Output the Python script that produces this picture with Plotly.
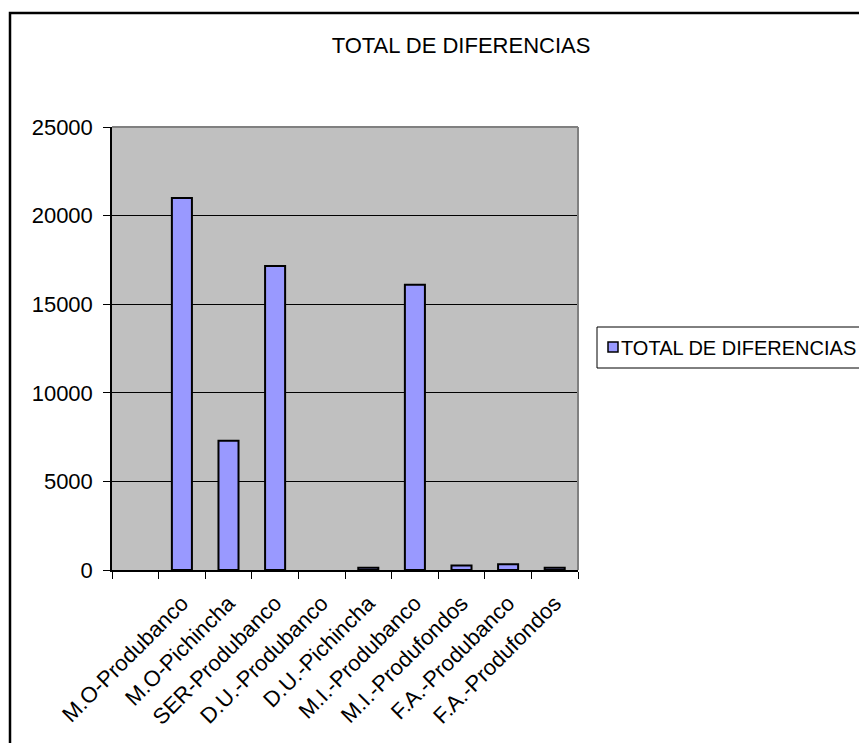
import plotly.graph_objects as go

categories = [" ", "M.O-Produbanco", "M.O-Pichincha", "SER-Produbanco", "D.U.-Produbanco",
              "D.U.-Pichincha", "M.I.-Produbanco", "M.I.-Produfondos", "F.A.-Produbanco",
              "F.A.-Produfondos"]
values = [None, 21000, 7300, 17150, 0, 120, 16100, 260, 320, 120]
series_name = "TOTAL DE DIFERENCIAS"
y_ticks = [0, 5000, 10000, 15000, 20000, 25000]
y_tick_labels = ["0", "5000", "10000", "15000", "20000", "25000"]

OFF = 8  # page body margin
W, H = 867 - 2 * OFF, 751 - 2 * OFF
L, R, T, B = 112 - OFF, 578 - OFF, 127 - OFF, 570 - OFF
FONT = "Liberation Sans, Arial, sans-serif"
FS = 22


def px(xp):
    return (xp - OFF - L) / (R - L)


def py(yp):
    return (B - (yp - OFF)) / (B - T)


line_widths = [0 if not v else 2 for v in values]

fig = go.Figure()
fig.add_trace(go.Bar(
    x=categories, y=values, name=series_name,
    marker=dict(color="#9999FF", line=dict(color="black", width=line_widths)),
    showlegend=False,
))

shapes = [
    dict(type="line", xref="paper", yref="paper", x0=0, x1=1, y0=1, y1=1,
         line=dict(color="#808080", width=2)),
    dict(type="line", xref="paper", yref="paper", x0=1, x1=1, y0=0, y1=1,
         line=dict(color="#808080", width=2)),
    dict(type="rect", xref="paper", yref="paper", x0=px(10), x1=px(900), y0=py(13), y1=py(800),
         line=dict(color="black", width=2.5)),
    dict(type="rect", xref="paper", yref="paper", x0=px(597), x1=px(900), y0=py(327), y1=py(368),
         line=dict(color="black", width=1), fillcolor="white"),
    dict(type="rect", xref="paper", yref="paper", x0=px(608), x1=px(618), y0=py(342), y1=py(352),
         line=dict(color="black", width=1.5), fillcolor="#9999FF"),
]

fig.update_layout(
    width=W, height=H,
    margin=dict(l=L, r=W - R, t=T, b=H - B),
    paper_bgcolor="white", plot_bgcolor="#C0C0C0",
    font=dict(family=FONT, size=FS, color="black"),
    title=dict(text="TOTAL DE DIFERENCIAS", xref="paper", x=px(461), xanchor="center",
               yref="container", y=1 - (45 - OFF) / H, yanchor="middle",
               font=dict(family=FONT, size=FS, color="black")),
    bargap=0.57,
    shapes=shapes,
    annotations=[dict(text=series_name, xref="paper", yref="paper", x=px(619), y=py(347.5),
                      xanchor="left", yanchor="middle", showarrow=False,
                      font=dict(family=FONT, size=20, color="black"))],
    xaxis=dict(type="category", categoryorder="array", categoryarray=categories,
               tickangle=-45, tickson="boundaries", ticks="outside", ticklen=7,
               tickcolor="black", showline=True, linecolor="black", linewidth=1.5,
               showgrid=False, ticklabelstandoff=10,
               tickfont=dict(family=FONT, size=FS, color="black")),
    yaxis=dict(range=[0, 25000], tickvals=y_ticks, ticktext=y_tick_labels,
               ticks="outside", ticklen=7, ticklabelstandoff=6,
               tickcolor="black", showline=True, linecolor="black", linewidth=1.5,
               showgrid=True, gridcolor="black", gridwidth=1, zeroline=False,
               tickfont=dict(family=FONT, size=FS, color="black")),
)

fig.write_html("out.html")
